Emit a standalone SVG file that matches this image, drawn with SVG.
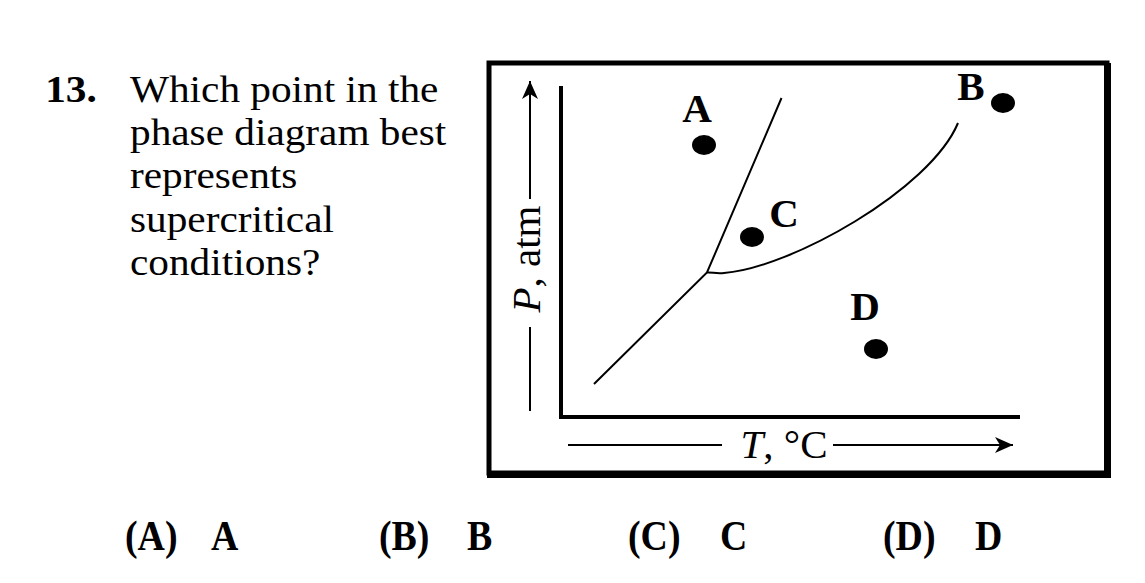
<svg xmlns="http://www.w3.org/2000/svg" width="1145" height="583" viewBox="0 0 1145 583">
<style>
.q{font-family:"Liberation Serif","Times New Roman",serif;font-size:37px;fill:#000}
.ans{font-family:"Liberation Serif","Times New Roman",serif;font-size:43px;font-weight:bold;fill:#000}
.b{font-weight:bold}
.lbl{font-family:"Liberation Serif","Times New Roman",serif;font-size:41px;font-weight:bold;fill:#000;text-anchor:middle}
.ax{font-family:"Liberation Serif","Times New Roman",serif;font-size:41px;fill:#000;text-anchor:middle}
.ln{fill:none;stroke:#000;stroke-width:2}
.dot{fill:#000}
</style>
<defs>
<marker id="ah" markerWidth="20" markerHeight="16" refX="18" refY="8" orient="auto" markerUnits="userSpaceOnUse">
<path d="M0,0 L18,8 L0,16 L5,8 Z" fill="#000"/>
</marker>
</defs>
<rect width="1145" height="583" fill="#fff"/>
<g id="question" transform="scale(1.116,1)">
<text class="q b" x="40.5" y="102">13.</text>
<text class="q" x="116.5" y="102">Which point in the</text>
<text class="q" x="116.5" y="145">phase diagram best</text>
<text class="q" x="116.5" y="188">represents</text>
<text class="q" x="116.5" y="232">supercritical</text>
<text class="q" x="116.5" y="275">conditions?</text>
</g>
<g id="frame">
<rect x="489" y="63" width="618" height="410" fill="none" stroke="#000" stroke-width="5"/>
<rect x="1104" y="63" width="7" height="414" fill="#000"/>
<rect x="487" y="471" width="624" height="7" fill="#000"/>
</g>
<g id="axes">
<path d="M561,86 V417 H1020" fill="none" stroke="#000" stroke-width="4"/>
</g>
<g id="connectors">
<line class="ln" x1="530" y1="411" x2="530" y2="327"/>
<line class="ln" x1="530" y1="199" x2="530" y2="81" marker-end="url(#ah)"/>
<line class="ln" x1="568" y1="445" x2="722" y2="445"/>
<line class="ln" x1="833" y1="445" x2="1013" y2="445" marker-end="url(#ah)"/>
<path class="ln" d="M594,384 L707,272.5 L781.5,98"/>
<path class="ln" d="M707,272.5 C712,272 716,274 724,273 C790,268 930,190 958,123"/>
</g>
<g id="axis-labels">
<text class="ax" transform="translate(540,259) rotate(-90)"><tspan font-style="italic">P</tspan>, atm</text>
<text class="ax" x="784" y="458"><tspan font-style="italic">T</tspan>, °C</text>
</g>
<g id="point-A"><ellipse class="dot" cx="704" cy="145" rx="12" ry="10"/><text class="lbl" x="697" y="122">A</text></g>
<g id="point-B"><ellipse class="dot" cx="1003" cy="103" rx="12" ry="10"/><text class="lbl" x="971" y="100">B</text></g>
<g id="point-C"><ellipse class="dot" cx="752" cy="237" rx="12" ry="10"/><text class="lbl" x="784" y="227">C</text></g>
<g id="point-D"><ellipse class="dot" cx="876" cy="349" rx="12" ry="10"/><text class="lbl" x="865" y="320">D</text></g>
<g id="answers">
<text class="ans" transform="translate(125,550) scale(0.88,1)">(A)</text><text class="ans" transform="translate(211,550) scale(0.88,1)">A</text>
<text class="ans" transform="translate(379,550) scale(0.88,1)">(B)</text><text class="ans" transform="translate(467,550) scale(0.88,1)">B</text>
<text class="ans" transform="translate(628,550) scale(0.88,1)">(C)</text><text class="ans" transform="translate(720,550) scale(0.88,1)">C</text>
<text class="ans" transform="translate(883,550) scale(0.88,1)">(D)</text><text class="ans" transform="translate(975,550) scale(0.88,1)">D</text>
</g>
</svg>
